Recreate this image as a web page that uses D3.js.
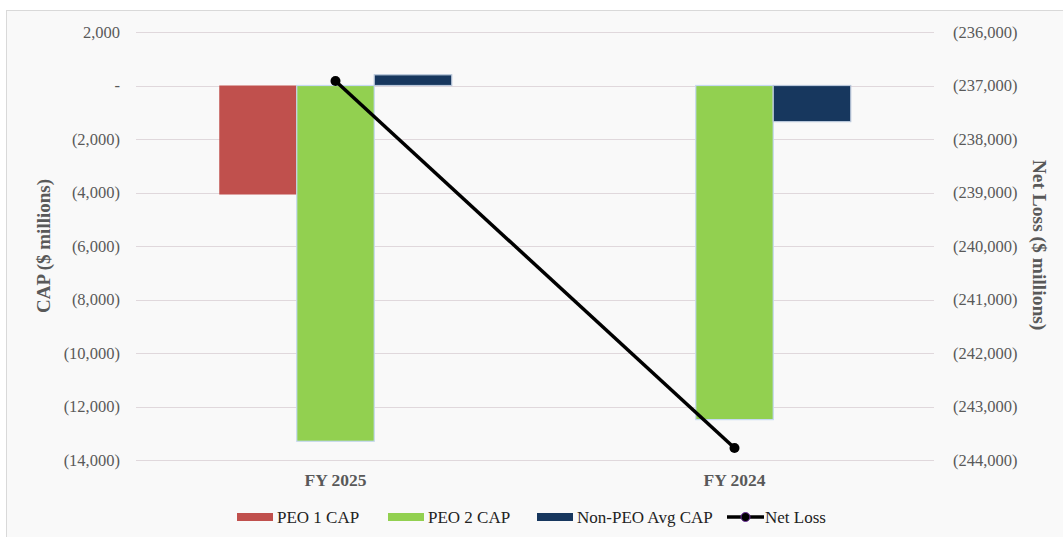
<!DOCTYPE html>
<html>
<head>
<meta charset="utf-8">
<script src="https://cdn.jsdelivr.net/npm/d3@7"></script>
<style>
  body { margin: 0; background: #fff; }
  svg { display: block; font-family: "Liberation Serif", "Times New Roman", serif; }
</style>
</head>
<body>
<svg width="1063" height="537"></svg>
<script>
var categories = ["FY 2025", "FY 2024"];
var seriesNames = ["PEO 1 CAP", "PEO 2 CAP", "Non-PEO Avg CAP"];
var peo1Cap = [-4075, null];
var peo2Cap = [-13300, -12490];
var nonPeoCap = [400, -1350];
var netLoss = [-236916, -243776];
var leftTicks = [2000, 0, -2000, -4000, -6000, -8000, -10000, -12000, -14000];
var rightTicks = [-236000, -237000, -238000, -239000, -240000, -241000, -242000, -243000, -244000];

var svg = d3.select('svg');
var colors = ["#c0504d", "#92d050", "#17375e"];
var strokes = ["none", "#c6d9f1", "#b9c7da"];

// chart frame
svg.append('rect')
    .attr('x', 6.5).attr('y', 10.5)
    .attr('width', 1070).attr('height', 540)
    .attr('fill', '#f9f9f9')
    .attr('stroke', '#d9d9d9');

var plotLeft = 136, plotRight = 934, plotTop = 32, plotBottom = 460;

var x = d3.scaleBand().domain(categories).range([plotLeft, plotRight]);
var yL = d3.scaleLinear().domain([-14000, 2000]).range([plotBottom, plotTop]);
var yR = d3.scaleLinear().domain([-244000, -236000]).range([plotBottom, plotTop]);

var fmt = function(v) {
  if (v === 0) return '-';
  var s = d3.format(',')(Math.abs(v));
  return v < 0 ? '(' + s + ')' : s;
};

// gridlines
svg.append('g').selectAll('line')
    .data(leftTicks)
    .enter().append('line')
    .attr('x1', plotLeft).attr('x2', plotRight)
    .attr('y1', function(d) { return Math.round(yL(d)) + 0.5; })
    .attr('y2', function(d) { return Math.round(yL(d)) + 0.5; })
    .attr('stroke', '#e0d8dc')
    .attr('stroke-width', 1.2);

// left axis labels
svg.append('g').selectAll('text')
    .data(leftTicks)
    .enter().append('text')
    .attr('x', 120)
    .attr('y', function(d) { return yL(d) + 5.5; })
    .attr('text-anchor', 'end')
    .attr('font-size', 16.5)
    .attr('fill', '#595959')
    .text(fmt);

// right axis labels
svg.append('g').selectAll('text')
    .data(rightTicks)
    .enter().append('text')
    .attr('x', 953)
    .attr('y', function(d) { return yR(d) + 5.5; })
    .attr('text-anchor', 'start')
    .attr('font-size', 16.5)
    .attr('fill', '#595959')
    .text(fmt);

// category labels
svg.append('g').selectAll('text')
    .data(categories)
    .enter().append('text')
    .attr('x', function(d) { return x(d) + x.bandwidth() / 2; })
    .attr('y', 486)
    .attr('text-anchor', 'middle')
    .attr('font-size', 17.5)
    .attr('font-weight', 'bold')
    .attr('fill', '#595959')
    .text(function(d) { return d; });

// axis titles
svg.append('text')
    .attr('transform', 'translate(50,246) rotate(-90)')
    .attr('text-anchor', 'middle')
    .attr('font-size', 19)
    .attr('font-weight', 'bold')
    .attr('fill', '#595959')
    .text('CAP ($ millions)');

svg.append('text')
    .attr('transform', 'translate(1033,245) rotate(90)')
    .attr('text-anchor', 'middle')
    .attr('font-size', 19.5)
    .attr('font-weight', 'bold')
    .attr('fill', '#595959')
    .text('Net Loss ($ millions)');

// bars
var series = [peo1Cap, peo2Cap, nonPeoCap];
var barW = 77.5;
var inner = d3.scaleBand().domain(seriesNames).range([-barW * 1.5, barW * 1.5]);

seriesNames.forEach(function(name, si) {
  var rows = categories.map(function(c, i) { return {cat: c, v: series[si][i]}; })
      .filter(function(d) { return d.v !== null; });
  svg.append('g').selectAll('rect')
      .data(rows)
      .enter().append('rect')
      .attr('x', function(d) { return x(d.cat) + x.bandwidth() / 2 + inner(name); })
      .attr('width', inner.bandwidth())
      .attr('y', function(d) { return yL(Math.max(0, d.v)); })
      .attr('height', function(d) { return Math.abs(yL(d.v) - yL(0)); })
      .attr('fill', colors[si])
      .attr('stroke', strokes[si])
      .attr('stroke-width', 1.2);
});

// net loss line
var pts = categories.map(function(c, i) { return [x(c) + x.bandwidth() / 2, yR(netLoss[i])]; });
svg.append('path')
    .attr('d', d3.line()(pts))
    .attr('fill', 'none')
    .attr('stroke', '#000')
    .attr('stroke-width', 3.5);
svg.append('g').selectAll('circle')
    .data(pts)
    .enter().append('circle')
    .attr('cx', function(d) { return d[0]; })
    .attr('cy', function(d) { return d[1]; })
    .attr('r', 5)
    .attr('fill', '#000');

// legend
var legend = [
  {name: "PEO 1 CAP", type: 'bar', color: colors[0], x: 237},
  {name: "PEO 2 CAP", type: 'bar', color: colors[1], x: 388},
  {name: "Non-PEO Avg CAP", type: 'bar', color: colors[2], x: 537},
  {name: "Net Loss", type: 'line', x: 727}
];
var lg = svg.append('g').selectAll('g')
    .data(legend)
    .enter().append('g')
    .attr('transform', function(d) { return 'translate(' + d.x + ',517)'; });
lg.filter(function(d) { return d.type === 'bar'; })
    .append('rect')
    .attr('x', 0).attr('y', -4).attr('width', 36).attr('height', 8)
    .attr('fill', function(d) { return d.color; });
lg.filter(function(d) { return d.type === 'line'; })
    .append('line')
    .attr('x1', 0).attr('x2', 37).attr('y1', 0).attr('y2', 0)
    .attr('stroke', '#000').attr('stroke-width', 3.5);
lg.filter(function(d) { return d.type === 'line'; })
    .append('circle')
    .attr('cx', 18.5).attr('cy', 0).attr('r', 4.5)
    .attr('fill', '#000').attr('stroke', '#7030a0').attr('stroke-width', 1);
lg.append('text')
    .attr('x', function(d) { return d.type === 'line' ? 38 : 40; })
    .attr('y', 6)
    .attr('font-size', 17)
    .attr('fill', '#222')
    .text(function(d) { return d.name; });
</script>
</body>
</html>
